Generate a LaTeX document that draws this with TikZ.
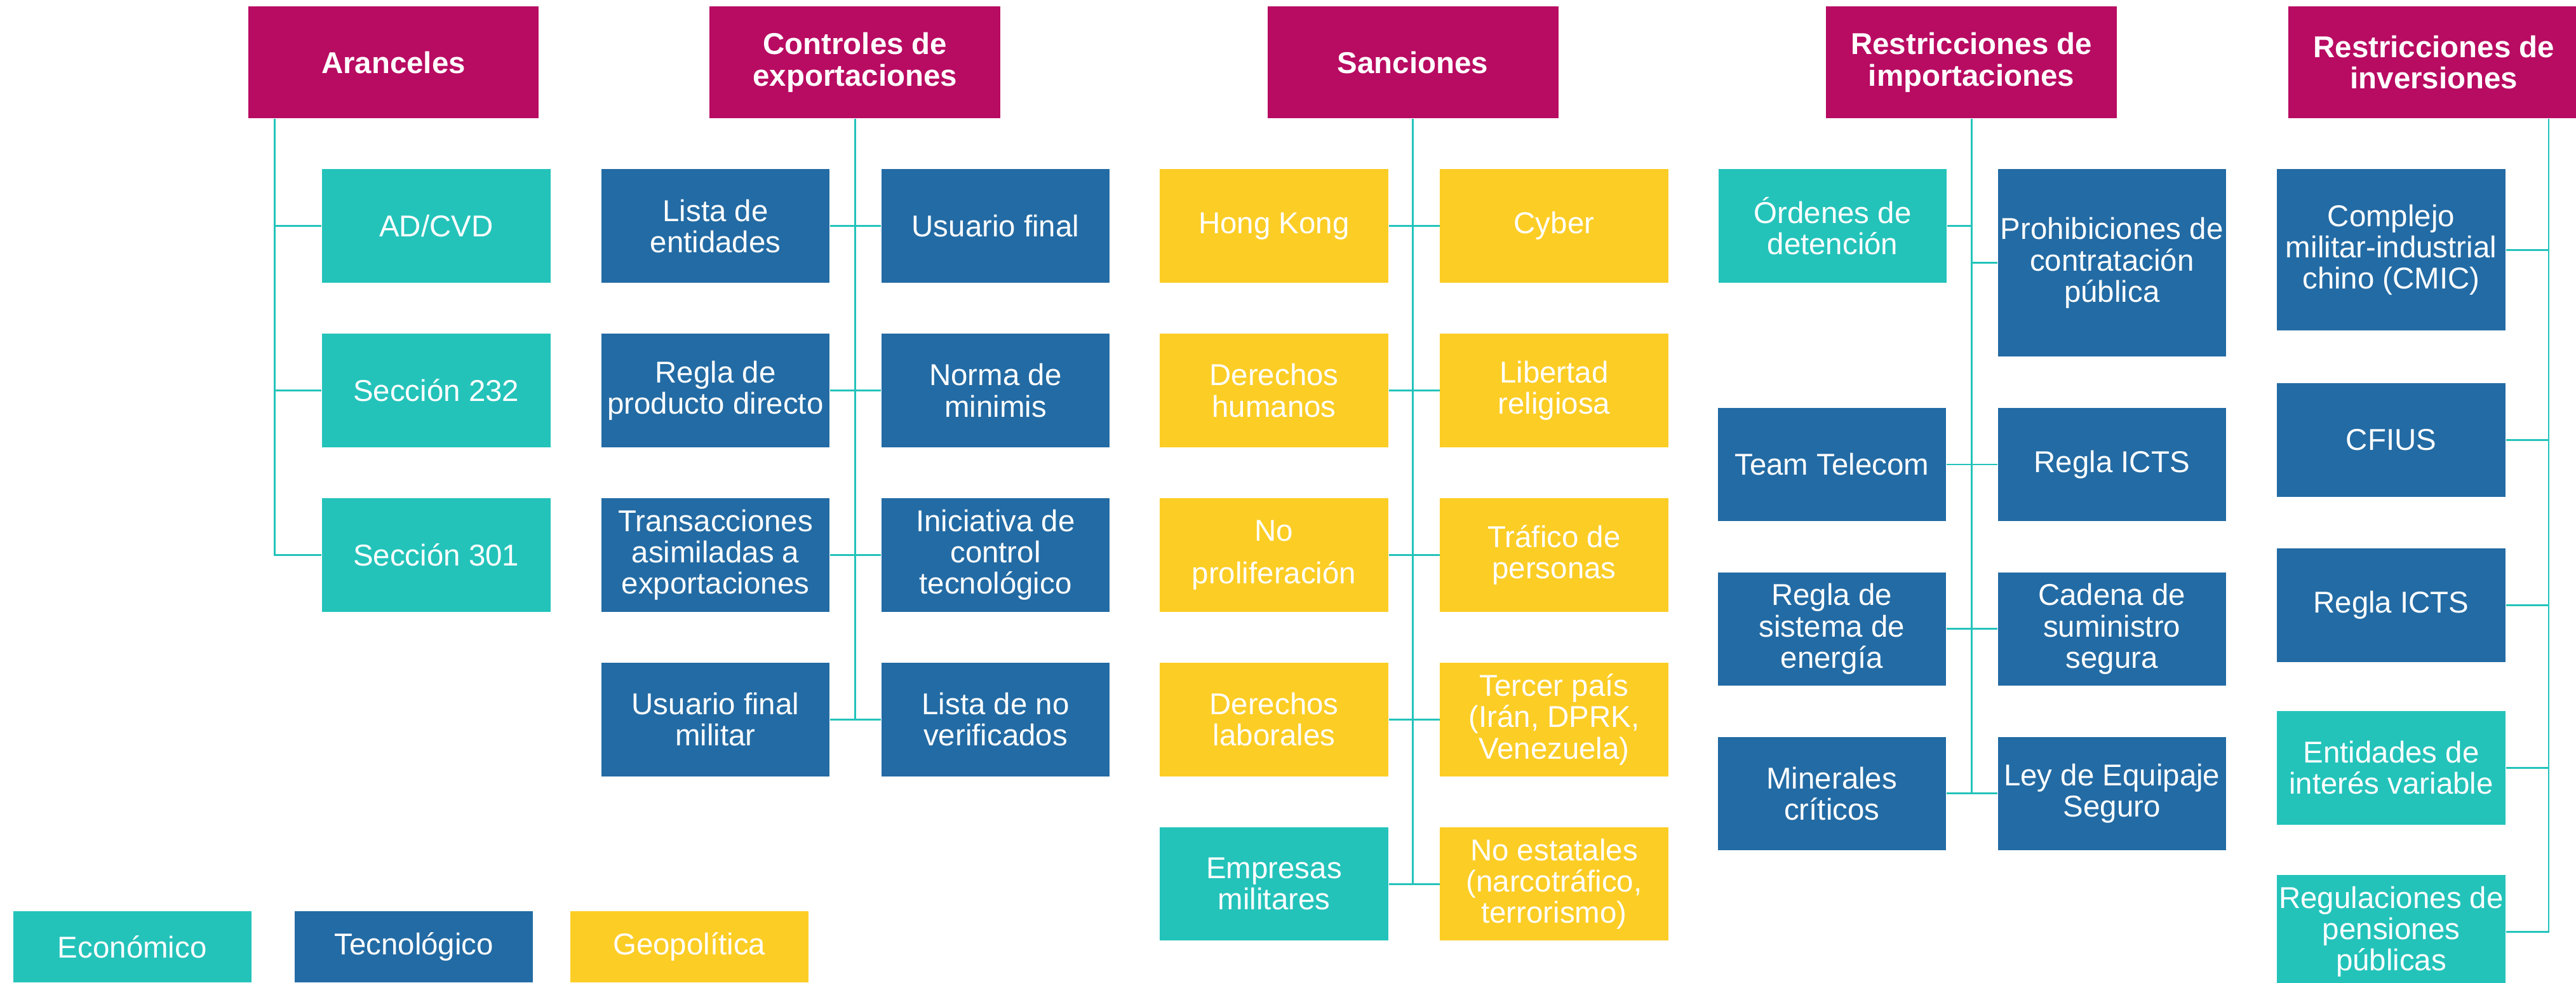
\documentclass[tikz,border=0pt]{standalone}
\usepackage{fontspec}
\setmainfont{Liberation Sans}
\usepackage{xcolor}
\usetikzlibrary{positioning}

\definecolor{fucsia}{HTML}{B80B62}
\definecolor{turquesa}{HTML}{23C3BA}
\definecolor{azul}{HTML}{236BA4}
\definecolor{amarillo}{HTML}{FCCD25}

\begin{document}
\begin{tikzpicture}[x=0.2587mm, y=-0.2587mm, node distance=7.9mm and 8mm,
  caja/.style={rectangle, inner sep=1pt, align=center, text=white,
    minimum width=35.96mm, minimum height=17.85mm,
    font=\fontsize{13.5pt}{14pt}\selectfont},
  hdr/.style={caja, fill=fucsia, minimum width=45.79mm, minimum height=17.59mm,
    font=\fontsize{13.5pt}{14pt}\selectfont\bfseries},
  eco/.style={caja, fill=turquesa},
  tec/.style={caja, fill=azul},
  geo/.style={caja, fill=amarillo},
  leg/.style={minimum width=37.51mm, minimum height=11.12mm},
  conn/.style={draw=turquesa, line width=0.8pt}]

\path[use as bounding box, clip] (0,0) rectangle (1568,598);

% Headers
\node[hdr] (aran) at (239.5,38) {Aranceles};
\node[hdr] (ctrl) at (520.5,38) {Controles de\\exportaciones};
\node[hdr] (sanc) at (860,38) {Sanciones};
\node[hdr] (imp) at (1200,38) {Restricciones de\\importaciones};
\node[hdr] (inv) at (1481.5,38) {Restricciones de\\inversiones};

% Aranceles
\node[eco] (ad) at (265.5,137.5) {AD/CVD};
\node[eco, below=of ad] (s232) {Sección 232};
\node[eco, below=of s232] (s301) {Sección 301};

% Controles de exportaciones
\node[tec] (lista) at (435.5,137.5) {Lista de\\entidades};
\node[tec, right=of lista] (usuario) {Usuario final};
\node[tec, below=of lista] (directo) {Regla de\\producto directo};
\node[tec, right=of directo] (minimis) {Norma de\\minimis};
\node[tec, below=of directo] (trans) {Transacciones\\asimiladas a\\exportaciones};
\node[tec, right=of trans] (inic) {Iniciativa de\\control\\tecnológico};
\node[tec, below=of trans] (militar) {Usuario final\\militar};
\node[tec, right=of militar] (nover) {Lista de no\\verificados};

% Sanciones
\node[geo] (hk) at (775.5,137.5) {Hong Kong};
\node[geo, right=of hk] (cyber) {Cyber};
\node[geo, below=of hk] (ddhh) {Derechos\\humanos};
\node[geo, right=of ddhh] (libertad) {Libertad\\religiosa};
\node[geo, below=of ddhh] (nopro) {No\\[5pt]proliferación};
\node[geo, right=of nopro] (trafico) {Tráfico de\\personas};
\node[geo, below=of nopro] (laborales) {Derechos\\laborales};
\node[geo, right=of laborales] (tercer) {Tercer país\\(Irán, DPRK,\\Venezuela)};
\node[eco, below=of laborales] (empresas) {Empresas\\militares};
\node[geo, right=of empresas] (noest) {No estatales\\(narcotráfico,\\terrorismo)};

% Restricciones de importaciones
\node[eco] (ordenes) at (1115.5,137.5) {Órdenes de\\detención};
\node[tec, minimum height=29.49mm] (prohib) at (1285.5,160) {Prohibiciones de\\contratación\\pública};
\node[tec, below=of prohib] (icts) {Regla ICTS};
\node[tec, left=of icts] (team) {Team Telecom};
\node[tec, below=of team] (energia) {Regla de\\sistema de\\energía};
\node[tec, below=of icts] (cadena) {Cadena de\\suministro\\segura};
\node[tec, below=of energia] (minerales) {Minerales\\críticos};
\node[tec, below=of cadena] (ley) {Ley de Equipaje\\Seguro};

% Restricciones de inversiones
\node[tec, minimum height=25.35mm] (cmic) at (1455.5,152) {Complejo\\militar-industrial\\chino (CMIC)};
\node[tec, below=8.2mm of cmic] (cfius) {CFIUS};
\node[tec, below=8.0mm of cfius] (ictsb) {Regla ICTS};
\node[eco, below=7.6mm of ictsb] (entidades) {Entidades de\\interés variable};
\node[eco, below=7.8mm of entidades] (pensiones) {Regulaciones de\\pensiones\\públicas};

% Legend
\node[eco, leg] (leco) at (80.5,576) {Económico};
\node[tec, leg, right=6.7mm of leco] (ltec) {Tecnológico};
\node[geo, leg, right=5.7mm of ltec] (lgeo) {Geopolítica};

% Connections
\coordinate (aT) at ([xshift=4.27mm]aran.south west);
\foreach \i in {ad,s232,s301}
    \draw[conn] (aT) |- (\i.west);

\draw[conn] (ctrl.south) -- (ctrl.south |- militar.east);
\foreach \a/\b in {lista/usuario,directo/minimis,trans/inic,militar/nover}
    \draw[conn] (\a.east) -- (\b.west);

\draw[conn] (sanc.south) -- (sanc.south |- empresas.east);
\foreach \a/\b in {hk/cyber,ddhh/libertad,nopro/trafico,laborales/tercer,empresas/noest}
    \draw[conn] (\a.east) -- (\b.west);

\draw[conn] (imp.south) -- (imp.south |- minerales.east);
\draw[conn] (ordenes.east) -- (ordenes.east -| imp.south);
\draw[conn] (prohib.west) -- (prohib.west -| imp.south);
\foreach \a/\b in {team/icts,energia/cadena,minerales/ley}
    \draw[conn] (\a.east) -- (\b.west);

\coordinate (iT) at ([xshift=-4.9mm]inv.south east);
\foreach \i in {cmic,cfius,ictsb,entidades,pensiones}
    \draw[conn] (iT) |- (\i.east);
\end{tikzpicture}
\end{document}
